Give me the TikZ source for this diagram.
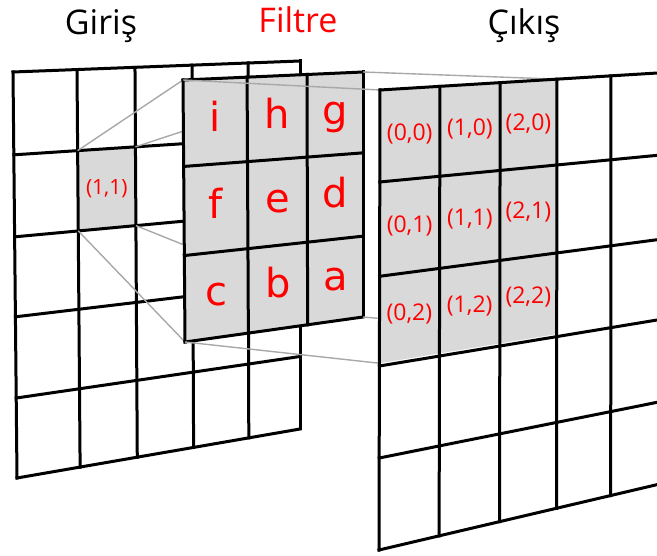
\documentclass[tikz,border=0pt]{standalone}
\usepackage{fontspec}
\setmainfont{Open Sans}
\newfontfamily\letterfont{DejaVu Sans}
\usetikzlibrary{calc}
\definecolor{cellgray}{HTML}{D9D9D9}
\definecolor{linkgray}{HTML}{A8A8A8}
\tikzset{
    grid line/.style={line width=3pt,line cap=rect},
    link line/.style={linkgray,line width=1.4pt},
    title/.style={anchor=base,font=\fontsize{34}{34}\selectfont},
    coord label/.style={red,inner sep=0pt,font=\fontsize{#1}{#1}\selectfont},
    tap label/.style={red,inner sep=0pt,text height=29pt,text depth=8pt,font=\letterfont\fontsize{40}{40}\selectfont}
}
% point (u,v) inside the quad with corners #2TL,#2TR,#2BL,#2BR
\newcommand\gridpoint[4]{%
    \path ($(#2TL)!#3!(#2TR)$) coordinate (gp-t)
          ($(#2BL)!#3!(#2BR)$) coordinate (gp-b)
          ($(gp-t)!#4!(gp-b)$) coordinate (#1);}

\begin{document}
\begin{tikzpicture}[x=1pt,y=-1pt]
    \clip (0,0) rectangle (657,556);

    % corners of the three planes
    \coordinate (inTL) at (13,72);
    \coordinate (inTR) at (300,61);
    \coordinate (inBL) at (17,478);
    \coordinate (inBR) at (300,429);

    \coordinate (fltTL) at (183,80);
    \coordinate (fltTR) at (363,72);
    \coordinate (fltBL) at (185,342);
    \coordinate (fltBR) at (363,317);

    \coordinate (outTL) at (380,90);
    \coordinate (outTR) at (664,72.6);
    \coordinate (outBL) at (379,550);
    \coordinate (outBR) at (664,483);

    % input
    \gridpoint{in11a}{in}{.223}{.204}
    \gridpoint{in11b}{in}{.425}{.204}
    \gridpoint{in11c}{in}{.425}{.406}
    \gridpoint{in11d}{in}{.223}{.406}
    \fill[cellgray] (in11a) -- (in11b) -- (in11c) -- (in11d) -- cycle;
    \foreach \u in {0,.223,.425,.624,.819,1}
        \draw[grid line] ($(inTL)!\u!(inTR)$) -- ($(inBL)!\u!(inBR)$);
    \foreach \v in {0,.204,.406,.603,.803,1}
        \draw[grid line] ($(inTL)!\v!(inBL)$) -- ($(inTR)!\v!(inBR)$);
    \gridpoint{in11m}{in}{.324}{.305}
    \node[coord label=21] (lab11) at (in11m) {(1,1)};

    % receptive field -> filter
    \draw[link line] (in11a) -- (fltTL);
    \draw[link line] (in11b) -- (fltTR);
    \draw[link line] (in11d) -- (fltBL);
    \draw[link line] (in11c) -- (fltBR);

    % filter
    \fill[cellgray] (fltTL) -- (fltTR) -- (fltBR) -- (fltBL) -- cycle;
    \foreach \u in {0,.356,.689,1}
        \draw[grid line] ($(fltTL)!\u!(fltTR)$) -- ($(fltBL)!\u!(fltBR)$);
    \foreach \v in {0,.33,.67,1}
        \draw[grid line] ($(fltTL)!\v!(fltBL)$) -- ($(fltTR)!\v!(fltBR)$);
    \foreach \l/\u/\v in {i/.178/.165, h/.522/.165, g/.845/.165,
                          f/.178/.5,   e/.522/.5,   d/.845/.5,
                          c/.178/.835, b/.522/.835, a/.845/.835}{
        \gridpoint{tap}{flt}{\u}{\v}
        \node[tap label] (tap-\l) at (tap) {\l};
    }

    % filter -> output
    \gridpoint{outA}{out}{.623}{0}
    \gridpoint{outB}{out}{.623}{.594}
    \gridpoint{outC}{out}{0}{.594}
    \draw[link line] (fltTL) -- (outTL);
    \draw[link line] (fltTR) -- (outA);
    \draw[link line] (fltBL) -- (outC);
    \draw[link line] (fltBR) -- (outB);

    % output
    \fill[white] (outTL) -- (outTR) -- (outBR) -- (outBL) -- cycle;
    \fill[cellgray] (outTL) -- (outA) -- (outB) -- (outC) -- cycle;
    \foreach \u in {0,.211,.423,.623,.813,1}
        \draw[grid line] ($(outTL)!\u!(outTR)$) -- ($(outBL)!\u!(outBR)$);
    \foreach \v in {0,.2,.405,.6,.8,1}
        \draw[grid line] ($(outTL)!\v!(outBL)$) -- ($(outTR)!\v!(outBR)$);
    \foreach \i/\u in {0/.105,1/.317,2/.523}
        \foreach \j/\v in {0/.1,1/.3025,2/.4975}{
            \gridpoint{om}{out}{\u}{\v}
            \node[coord label=23] (out-\i-\j) at (om) {(\i,\j)};
        }

    % titles
    \node[title] (giris) at (101,35) {Giriş};
    \node[title,red] (filtre) at (298,33) {Filtre};
    \node[title] (cikis) at (524,35) {Çıkış};
\end{tikzpicture}
\end{document}
